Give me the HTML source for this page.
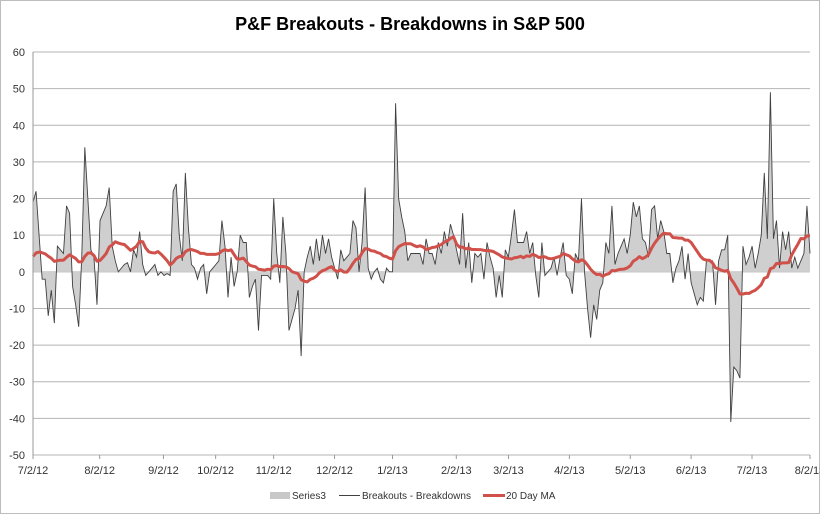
<!DOCTYPE html>
<html><head><meta charset="utf-8"><style>
body{margin:0;background:#fff;}
svg{display:block;font-family:"Liberation Sans",Arial,sans-serif;}
</style></head><body>
<svg id="chart" width="820" height="514" viewBox="0 0 820 514">
<rect x="0.5" y="0.5" width="819" height="513" fill="#fff" stroke="#bdbdbd"/>
<text x="410" y="30" text-anchor="middle" font-size="18" font-weight="bold" fill="#000">P&amp;F Breakouts - Breakdowns in S&amp;P 500</text>
<g id="grid"></g><g id="area"></g><g id="lines"></g><g id="axes"></g>
<g>
<rect x="270" y="492" width="20" height="7" fill="#c8c8c8"/>
<text x="292" y="499" font-size="10" fill="#333">Series3</text>
<line x1="339" y1="495.5" x2="360" y2="495.5" stroke="#404040" stroke-width="1"/>
<text x="362" y="499" font-size="10" fill="#333">Breakouts - Breakdowns</text>
<line x1="483" y1="495.5" x2="505" y2="495.5" stroke="#d0504a" stroke-width="3"/>
<text x="506" y="499" font-size="10" fill="#333">20 Day MA</text>
</g>
</svg>
<script>
const values = [19,22,10,-2,-2,-12,-5,-14,7,6,5,18,16,-4,-9,-15,4,34,20,6,4,-9,14,16,18,23,7,3,0,1,2,2.5,0,6,4,11,2,-1,0,1,2,-1,0,-1,-0.5,-1,22,24,10,3,27,12,2,1,-2,1,2,-6,0,1,2,3,14,7,-7,
4,-4,0,10,8,8,-7,-4,-2,-16,-1,-1,-1,-2,20,5,-3,15,5,-16,-13,-10,-5,-23,0,4,7,2,9,3,10,5,9,4,1,-2,6,3,4,5,14,12,0,8,23,1,-2,0,1,-2,-3,1,0,0,46,20,15,11,3,5,5,5,5,2,9,
5,5,2,8,5,11,7,13,10,6,2,16,1,8,-3,5,4,5,-2,8,4,1,-7,-1,-7,6,4,10,17,8,8,8,11,5,8,-1,-7,8,-1,0,1,4,-1,4,8,-1,-2,-6,5,3,20,0,-10,-18,-9,-13,-5,-3,
8,5,18,2,5,7,9,5,10,19,15,18,9,8,4,17,18,9,14,11,5,5,-3,1,3,7,-2,5,-3,-6,-9,-7,-8,3,3,3,-9,3,6,6,10,-41,-26,-27,-29,7,2,4,7,1,5,10,27,9,49,9,14,1,11,6,11,1,4,1,3,5,18,5];
const priorValues = [3,5,2,4,1,6,3,2,5,4,3,2,6,1,4,3,5,2,4];
const yTicks = [60,50,40,30,20,10,0,-10,-20,-30,-40,-50];
const dateLabels = ["7/2/12","8/2/12","9/2/12","10/2/12","11/2/12","12/2/12","1/2/13","2/2/13","3/2/13","4/2/13","5/2/13","6/2/13","7/2/13","8/2/13"];
const dateDayIndex = [0,23,45,63,83,104,124,146,164,185,206,227,248,268];
const maWindow = 20;

const NS="http://www.w3.org/2000/svg";
const X0=33,X1=810,Y0=52,Y1=455,VMAX=60,VMIN=-50;
const N=values.length;
function xs(i){return X0+i*(X1-X0)/(N-1);}
function xd(d){return X0+d*(X1-X0)/268;}
function ys(v){return Y0+(VMAX-v)*(Y1-Y0)/(VMAX-VMIN);}
function mk(tag,attrs,parent){const e=document.createElementNS(NS,tag);for(const k in attrs)e.setAttribute(k,attrs[k]);parent.appendChild(e);return e;}
const grid=document.getElementById('grid'),axes=document.getElementById('axes'),area=document.getElementById('area'),lines=document.getElementById('lines');
yTicks.forEach(t=>{
  const g=mk('line',{x1:X0,x2:X1,y1:ys(t),y2:ys(t),stroke:'#b4b4b4','stroke-width':1},grid);
  
  
  const l=mk('text',{x:25,y:ys(t)+4,'text-anchor':'end','font-size':11,fill:'#333'},axes);
  l.textContent=t;
  
  
});
const ax=mk('line',{x1:X0,x2:X0,y1:Y0,y2:Y1,stroke:'#999','stroke-width':1},axes);


dateLabels.forEach((d,k)=>{
  const x=xd(dateDayIndex[k]);
  const tk=mk('line',{x1:x,x2:x,y1:Y1,y2:Y1+4,stroke:'#999'},axes);
  
  
  const t=mk('text',{x:x,y:474,'text-anchor':'middle','font-size':11,fill:'#333'},axes);
  t.textContent=d;
  
  
});
let ap='M'+xs(0)+','+ys(0);
values.forEach((v,i)=>{ap+=' L'+xs(i).toFixed(2)+','+ys(v).toFixed(2);});
ap+=' L'+xs(N-1)+','+ys(0)+' Z';
const a=mk('path',{d:ap,fill:'#cfcfcf',stroke:'none'},area);


const lp=values.map((v,i)=>(i?'L':'M')+xs(i).toFixed(2)+','+ys(v).toFixed(2)).join(' ');
const ln=mk('path',{d:lp,fill:'none',stroke:'#404040','stroke-width':0.9},lines);


const full=priorValues.concat(values),P=priorValues.length;
const ma=values.map((v,i)=>{const j=i+P;const s=full.slice(Math.max(0,j-maWindow+1),j+1);return s.reduce((p,c)=>p+c,0)/s.length;});
const mp=ma.map((v,i)=>(i?'L':'M')+xs(i).toFixed(2)+','+ys(v).toFixed(2)).join(' ');
const m=mk('path',{d:mp,fill:'none',stroke:'#d0504a','stroke-width':3,'stroke-linejoin':'round'},lines);


</script>
</body></html>
